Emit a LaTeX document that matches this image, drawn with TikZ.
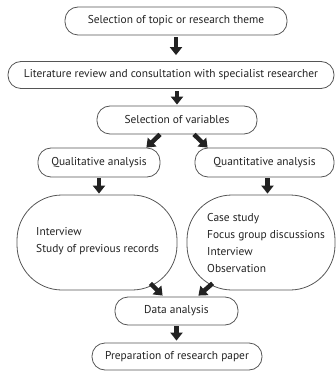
\documentclass[tikz,border=0pt]{standalone}
\usepackage{fontspec}
\setmainfont{PT Sans}
\usetikzlibrary{arrows.meta}
\definecolor{edge}{HTML}{555555}
\definecolor{ink}{HTML}{222222}
\tikzset{
  box/.style={draw=edge, line width=0.8pt, rounded corners=13pt, inner sep=0pt,
    font=\fontsize{11.4}{13}\selectfont, text=ink},
  bigbox/.style={draw=edge, line width=0.8pt, rounded corners=45pt, inner sep=0pt},
  txt/.style={font=\fontsize{11.4}{16.7}\selectfont, text=ink, align=left, inner sep=0pt, anchor=west},
  bigarrow/.style={draw=ink, line width=4.5pt, -{Triangle[width=12pt,length=8pt]}}
}
\begin{document}
\begin{tikzpicture}[x=1pt,y=-1pt]
\useasboundingbox (0,0) rectangle (336,371);
\node[box, minimum width=222pt, minimum height=28pt] (b1) at (176,21) {Selection of topic or research theme};
\node[box, minimum width=326pt, minimum height=27pt] (b2) at (171,75) {Literature review and consultation with specialist researcher};
\node[box, minimum width=160pt, minimum height=28pt] (b3) at (177,120) {Selection of variables};
\node[box, minimum width=122pt, minimum height=29pt] (qual) at (99,162.5) {Qualitative analysis};
\node[box, minimum width=139pt, minimum height=29pt] (quant) at (264.5,162.5) {Quantitative analysis};
\node[bigbox, minimum width=160pt, minimum height=95pt] (lb) at (97,242.5) {};
\node[bigbox, minimum width=148pt, minimum height=95pt] (rb) at (261,242.5) {};
\node[txt] (lt) at (36,241) {Interview\\Study of previous records};
\node[txt] (rt) at (207,243) {Case study\\Focus group discussions\\Interview\\Observation};
\node[box, minimum width=123pt, minimum height=28pt] (data) at (176.5,311) {Data analysis};
\node[box, minimum width=170pt, minimum height=27pt] (prep) at (177,356.5) {Preparation of research paper};
\draw[bigarrow] ([yshift=-2pt]b1.south) -- ([yshift=6pt]b1.south |- b2.north);
\draw[bigarrow] ([yshift=-2pt]b2.south -| b3.south) -- ([yshift=1pt]b3.north);
\draw[bigarrow] ([xshift=-17pt]b3.south) -- ([xshift=-14pt]qual.north east);
\draw[bigarrow] ([xshift=17pt]b3.south) -- ([xshift=13pt]quant.north west);
\draw[bigarrow] ([yshift=-1pt]qual.south) -- ([yshift=1pt]qual.south |- lb.north);
\draw[bigarrow] ([xshift=3pt,yshift=-1pt]quant.south) -- ([xshift=3pt,yshift=1pt]quant.south |- rb.north);
\draw[bigarrow] ([xshift=-27pt,yshift=7pt]lb.south east) -- ([xshift=48pt,yshift=1pt]data.north west);
\draw[bigarrow] ([xshift=26pt,yshift=7pt]rb.south west) -- ([xshift=-40pt,yshift=1pt]data.north east);
\draw[bigarrow] ([yshift=-1pt]data.south) -- ([yshift=2pt]data.south |- prep.north);
\end{tikzpicture}
\end{document}
